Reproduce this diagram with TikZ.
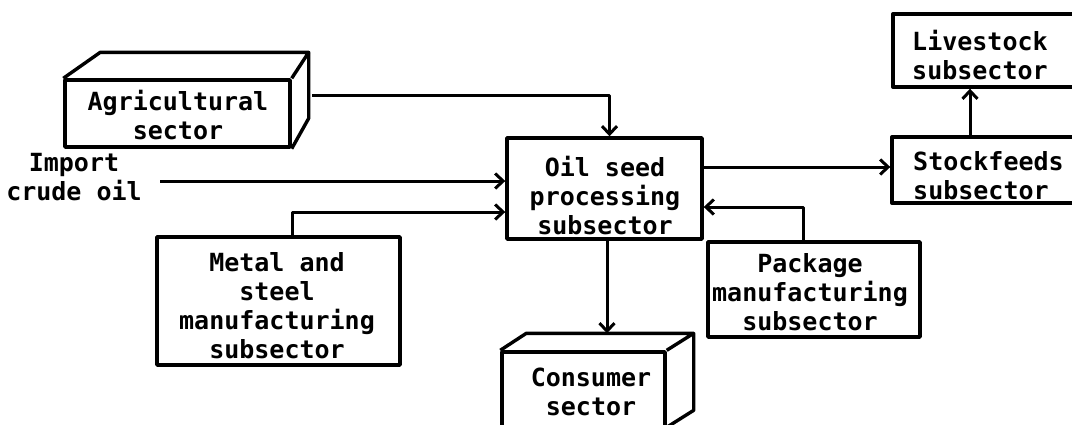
\documentclass[tikz,border=0pt]{standalone}
\usepackage{fontspec}
\setmonofont{DejaVu Sans Mono}
\usetikzlibrary{arrows.meta,calc}
\begin{document}
\begin{tikzpicture}[x=1pt,y=-1pt,
  line join=round,
  box/.style={draw, line width=3.4pt, inner sep=0pt},
  edge3d/.style={line width=3.4pt},
  lbl/.style={font=\ttfamily\bfseries\fontsize{25}{29}\selectfont, align=center, inner sep=0pt},
  conn/.style={line width=3pt, -{Straight Barb[length=8pt,width=15pt,line width=3pt]}}
]
\useasboundingbox (0,0) rectangle (1072,424);

% boxes
\node[box, minimum width=225pt, minimum height=67pt] (ag) at (177.5,113.5) {};
\draw[edge3d] (ag.north west) -- ++(37,-26) -- ($(ag.north east)+(17,-26)$) -- (ag.north east);
\draw[edge3d] ($(ag.north east)+(17,-26)$) -- ++(0,66) -- (ag.south east);

\node[box, minimum width=195pt, minimum height=101pt] (oil) at (604.5,188.5) {};
\node[box, minimum width=243pt, minimum height=128pt] (metal) at (278.5,301) {};
\node[box, minimum width=212pt, minimum height=95pt] (pkg) at (814,289.5) {};
\node[box, minimum width=200pt, minimum height=66pt] (stock) at (992,170) {};
\node[box, minimum width=200pt, minimum height=73pt] (live) at (993,50.5) {};

\node[box, minimum width=163pt, minimum height=78pt] (cons) at (583.5,391) {};
\draw[edge3d] (cons.north west) -- ++(26,-17) -- ($(cons.north east)+(27,-17)$) -- (cons.north east);
\draw[edge3d] ($(cons.north east)+(27,-17)$) -- ++(0,77) -- ++(-27,17);
\coordinate (cback) at ($(cons.north)+(0,-17)$);

% labels
\node[lbl] (agt) at (178,115) {Agricultural\\sector};
\node[lbl] (impt) at (74,177) {Import\\crude oil};
\node[lbl] (oilt) at (605,196) {Oil seed\\processing\\subsector};
\node[lbl] (metalt) at (277,306) {Metal and\\steel\\manufacturing\\subsector};
\node[lbl] (pkgt) at (810,292) {Package\\manufacturing\\subsector};
\node[lbl, align=left, anchor=west] (stockt) at (913,176) {Stockfeeds\\subsector};
\node[lbl, align=left, anchor=west] (livet) at (912,55) {Livestock\\subsector};
\node[lbl] (const) at (591,392) {Consumer\\sector};

% connectors
\coordinate (agout) at (312,95);
\draw[conn] (agout) -| ([xshift=5pt]oil.north);
\coordinate (impout) at (160,181);
\draw[conn] (impout) -- (impout -| oil.west);
\draw[conn] ([xshift=13.5pt]metal.north) |- ([yshift=-23.5pt]oil.west);
\draw[conn] ([xshift=-11pt]pkg.north) |- ([yshift=-18.5pt]oil.east);
\coordinate (o2s) at ([yshift=21.5pt]oil.east);
\draw[conn] (o2s) -- (o2s -| stock.west);
\coordinate (s2l) at ([xshift=-22pt]stock.north);
\draw[conn] (s2l) -- (s2l |- live.south);
\coordinate (o2c) at ([xshift=2.5pt]oil.south);
\draw[conn] (o2c) -- (o2c |- cback);
\end{tikzpicture}
\end{document}
